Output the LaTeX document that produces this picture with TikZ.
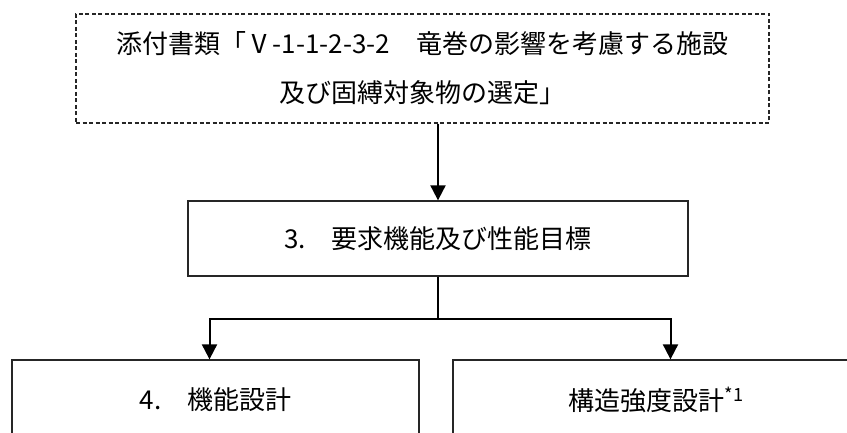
\documentclass[tikz,border=0pt]{standalone}
\usepackage{fontspec}
\setmainfont{Noto Sans CJK JP}
\usetikzlibrary{arrows.meta}
\begin{document}
\begin{tikzpicture}[x=1pt,y=-1pt,
  box/.style={draw=black!85, line width=1.3pt, inner sep=0pt, align=center,
    font=\fontsize{26}{49}\selectfont},
  dbox/.style={box, dash pattern=on 4pt off 2.5pt, line width=1.1pt},
  arr/.style={line width=2pt, -{Triangle[width=15pt,length=15pt]}},
  ln/.style={line width=2pt}]
\useasboundingbox (0,0) rectangle (847,433);
\clip (0,0) rectangle (847,433);
\node[dbox, minimum width=693pt, minimum height=109pt] (src) at (422.5,68.5)
  {添付書類「Ⅴ-1-1-2-3-2　竜巻の影響を考慮する施設\\及び固縛対象物の選定」};
\node[box, minimum width=500pt, minimum height=75pt] (req) at (438,238.5)
  {3.　要求機能及び性能目標};
\node[box, minimum width=407pt, minimum height=80pt] (func) at (215.5,400)
  {4.　機能設計};
\node[box, minimum width=407pt, minimum height=80pt] (struct) at (656.5,400)
  {構造強度設計\textsuperscript{*1}};
\draw[arr] (src.south -| req.north) -- (req.north);
\draw[ln] (req.south) -- ++(0,42) coordinate (br);
\draw[arr] (br) -| ([xshift=-6pt]func.north);
\draw[arr] (br) -| ([xshift=14pt]struct.north);
\end{tikzpicture}
\end{document}
